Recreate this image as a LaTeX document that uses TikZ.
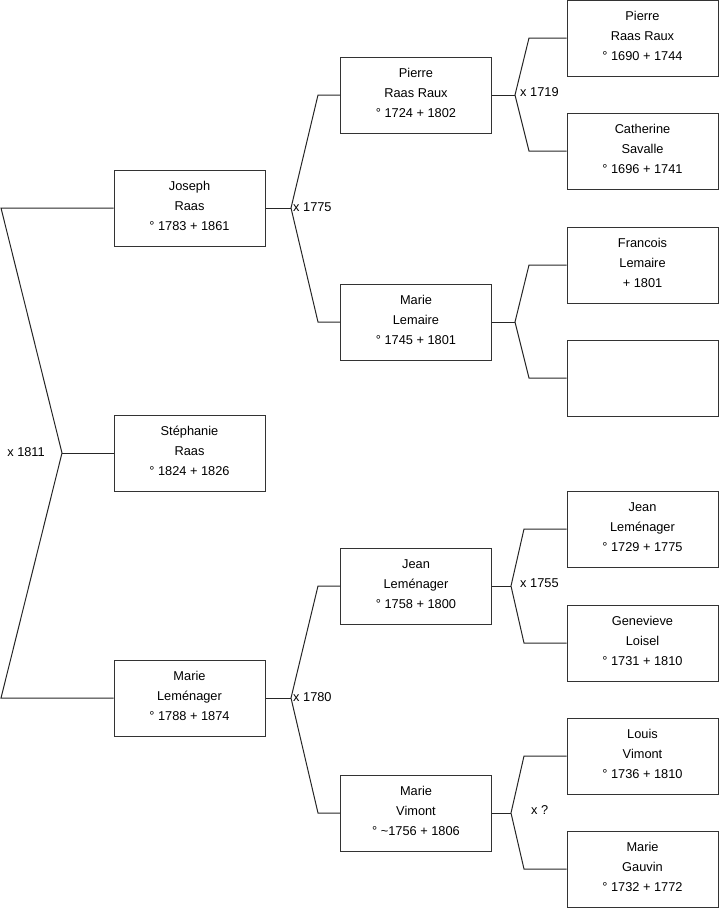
\documentclass[tikz,border=0pt]{standalone}
\usepackage{fontspec}
\setmainfont{Liberation Sans}
\begin{document}
\begin{tikzpicture}[x=1pt,y=-1pt,
  person/.style={draw=black!80, line width=1pt, minimum width=151pt, minimum height=76pt, align=center, font=\fontsize{12.8}{20}\selectfont, inner sep=0pt, fill=white, execute at end node={\rule[-4pt]{0pt}{4pt}}},
  link/.style={draw=black!85, line width=1pt},
  lbl/.style={font=\fontsize{12.8}{14}\selectfont, inner sep=0pt}]
\useasboundingbox (0,0) rectangle (719,908);
% generation 1
\node[person] (joseph) at (189.5,208) {Joseph\\Raas\\° 1783 + 1861};
\node[person] (steph) at (189.5,453) {Stéphanie\\Raas\\° 1824 + 1826};
\node[person] (marieL) at (189.5,698) {Marie\\Leménager\\° 1788 + 1874};
% generation 2
\node[person] (pierre) at (416,95) {Pierre\\Raas Raux\\° 1724 + 1802};
\node[person] (lemaire) at (416,322) {Marie\\Lemaire\\° 1745 + 1801};
\node[person] (jean) at (416,586) {Jean\\Leménager\\° 1758 + 1800};
\node[person] (vimont) at (416,813) {Marie\\Vimont\\° \textasciitilde 1756 + 1806};
% generation 3
\node[person] (g1) at (642.5,38) {Pierre\\Raas Raux\\° 1690 + 1744};
\node[person] (g2) at (642.5,151) {Catherine\\Savalle\\° 1696 + 1741};
\node[person] (g3) at (642.5,265) {Francois\\Lemaire\\+ 1801};
\node[person] (g4) at (642.5,378) {};
\node[person] (g5) at (642.5,529) {Jean\\Leménager\\° 1729 + 1775};
\node[person] (g6) at (642.5,643) {Genevieve\\Loisel\\° 1731 + 1810};
\node[person] (g7) at (642.5,756) {Louis\\Vimont\\° 1736 + 1810};
\node[person] (g8) at (642.5,869) {Marie\\Gauvin\\° 1732 + 1772};
% left bracket
\coordinate (L1) at (1,208);
\coordinate (L2) at (62,453);
\coordinate (L3) at (1,698);
\draw[link] (joseph.west) -- (L1) -- (L2) -- (L3) -- (marieL.west);
\draw[link] (L2) -- (steph.west);
\node[lbl, anchor=east] (m1811) at (45,452) {x 1811};
% Joseph bracket
\coordinate (J0) at (291,208);
\coordinate (J1) at (318,95);
\coordinate (J2) at (318,322);
\draw[link] (joseph.east) -- (J0);
\draw[link] (pierre.west) -- (J1) -- (J0) -- (J2) -- (lemaire.west);
\node[lbl, anchor=west] (m1775) at (293,207) {x 1775};
% Marie Lemenager bracket
\coordinate (M0) at (291,698);
\coordinate (M1) at (318,586);
\coordinate (M2) at (318,813);
\draw[link] (marieL.east) -- (M0);
\draw[link] (jean.west) -- (M1) -- (M0) -- (M2) -- (vimont.west);
\node[lbl, anchor=west] (m1780) at (293,697) {x 1780};
% Pierre bracket
\coordinate (P0) at (515,95);
\coordinate (P1) at (529,38);
\coordinate (P2) at (529,151);
\draw[link] (pierre.east) -- (P0);
\draw[link] (g1.west) -- (P1) -- (P0) -- (P2) -- (g2.west);
\node[lbl, anchor=west] (m1719) at (520,92) {x 1719};
% Lemaire bracket
\coordinate (E0) at (515,322);
\coordinate (E1) at (529,265);
\coordinate (E2) at (529,378);
\draw[link] (lemaire.east) -- (E0);
\draw[link] (g3.west) -- (E1) -- (E0) -- (E2) -- (g4.west);
% Jean bracket
\coordinate (N0) at (511,586);
\coordinate (N1) at (524,529);
\coordinate (N2) at (524,643);
\draw[link] (jean.east) -- (N0);
\draw[link] (g5.west) -- (N1) -- (N0) -- (N2) -- (g6.west);
\node[lbl, anchor=west] (m1755) at (520,583) {x 1755};
% Vimont bracket
\coordinate (V0) at (511,813);
\coordinate (V1) at (524,756);
\coordinate (V2) at (524,869);
\draw[link] (vimont.east) -- (V0);
\draw[link] (g7.west) -- (V1) -- (V0) -- (V2) -- (g8.west);
\node[lbl, anchor=west] (mq) at (531,810) {x ?};
\end{tikzpicture}
\end{document}
